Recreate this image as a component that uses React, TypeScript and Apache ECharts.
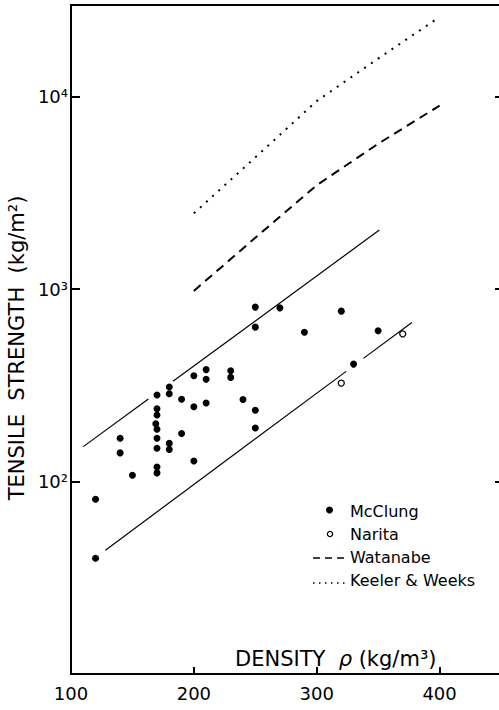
import React, { useEffect, useRef } from "react";
import * as echarts from "echarts";

// McClung measurements: [density kg/m3, tensile strength kg/m2]
const mcclung: [number, number][] = [
  [250, 807], [270, 800], [320, 769], [250, 635], [290, 598], [350, 608],
  [330, 408], [200, 355], [210, 382], [210, 340], [230, 377], [230, 348],
  [180, 310], [180, 286], [170, 282], [190, 268], [200, 245], [210, 256],
  [240, 267], [250, 235], [170, 239], [170, 222], [169, 200], [170, 187],
  [170, 168], [190, 178], [250, 190], [140, 168], [140, 141], [170, 149],
  [180, 158], [180, 147], [200, 128], [150, 108], [170, 119], [170, 111],
  [120, 81], [120, 40],
];
const narita: [number, number][] = [[320, 325], [370, 586]];
const watanabe: [number, number][] = [[200, 980], [250, 1850], [300, 3470], [350, 5700], [400, 9000]];
const keelerWeeks: [number, number][] = [[200, 2480], [250, 4840], [300, 9500], [350, 15800], [400, 26000]];
// envelope lines (drawn in pieces, with gaps as in the original)
const upperBoundA: [number, number][] = [[110, 152], [163, 269]];
const upperBoundB: [number, number][] = [[183, 332], [351, 2030]];
const lowerBoundA: [number, number][] = [[128, 44], [324, 374]];
const lowerBoundB: [number, number][] = [[338, 437], [377.5, 671]];

const xTickLabels = [100, 200, 300, 400];
const yTickValues = [100, 1000, 10000];
const yTickTexts = ["10²", "10³", "10⁴"];

const FONT = "DejaVu Sans";

export default function App() {
  const ref = useRef<HTMLDivElement>(null);
  useEffect(() => {
    if (!ref.current) return;
    const chart = echarts.init(ref.current, undefined, { renderer: "svg" });
    const black = "#000";
    const solid = { color: black, width: 1.2 };
    const fitLine = (name: string, data: [number, number][]) => ({
      name,
      type: "line",
      data,
      symbol: "none",
      lineStyle: solid,
      z: 2,
      silent: true,
    });
    chart.setOption({
      animation: false,
      backgroundColor: "#fff",
      grid: {
        left: 71,
        right: -2,
        top: 5,
        bottom: 36,
        show: true,
        borderColor: black,
        borderWidth: 2,
        containLabel: false,
        outerBoundsMode: "none",
      },
      xAxis: {
        type: "value",
        min: 100,
        max: 450,
        interval: 100,
        axisLine: { show: true, lineStyle: { color: black, width: 2 } },
        axisTick: { show: true, inside: true, length: 7, lineStyle: { color: black, width: 2 } },
        axisLabel: {
          color: black,
          fontSize: 18,
          fontFamily: FONT,
          margin: 10,
          formatter: (v: number) => (xTickLabels.includes(v) ? String(v) : ""),
        },
        splitLine: { show: false },
      },
      yAxis: [
        {
          type: "log",
          logBase: 10,
          min: 10,
          max: 30000,
          axisLine: { show: true, lineStyle: { color: black, width: 2 } },
          axisTick: { show: true, inside: true, length: 9, lineStyle: { color: black, width: 2 } },
          axisLabel: {
            color: black,
            fontSize: 18,
            fontFamily: FONT,
            margin: 3,
            formatter: (v: number) => {
              const i = yTickValues.findIndex((t) => Math.abs(t - v) < 1e-6 * t);
              return i >= 0 ? yTickTexts[i] : "";
            },
          },
          splitLine: { show: false },
          minorTick: { show: false },
        },
        {
          type: "log",
          logBase: 10,
          min: 10,
          max: 30000,
          position: "right",
          axisLine: { show: true, lineStyle: { color: black, width: 2 } },
          axisTick: { show: true, inside: true, length: 6, lineStyle: { color: black, width: 2 } },
          axisLabel: { show: false },
          splitLine: { show: false },
        },
      ],
      series: [
        fitLine("upperA", upperBoundA),
        fitLine("upperB", upperBoundB),
        fitLine("lowerA", lowerBoundA),
        fitLine("lowerB", lowerBoundB),
        {
          name: "Watanabe",
          type: "line",
          data: watanabe,
          symbol: "none",
          lineStyle: { color: black, width: 2, type: [9, 6] },
          z: 2,
        },
        {
          name: "Keeler & Weeks",
          type: "line",
          data: keelerWeeks,
          symbol: "none",
          lineStyle: { color: black, width: 2, type: [2, 6.3] },
          z: 2,
        },
        {
          name: "McClung",
          type: "scatter",
          data: mcclung,
          symbol: "circle",
          symbolSize: 7,
          itemStyle: { color: black, opacity: 1 },
          z: 3,
        },
        {
          name: "Narita",
          type: "scatter",
          data: narita,
          symbol: "circle",
          symbolSize: 6,
          itemStyle: { color: "#fff", borderColor: black, borderWidth: 1.3, opacity: 1 },
          z: 3,
        },
      ],
      graphic: [
        {
          type: "text",
          x: 17,
          y: 348,
          rotation: Math.PI / 2,
          style: {
            text: "TENSILE  STRENGTH  (kg/m²)",
            fontSize: 21,
            fontFamily: FONT,
            fill: black,
            align: "center",
            verticalAlign: "middle",
          },
        },
        {
          type: "text",
          x: 235,
          y: 659,
          style: {
            text: "DENSITY  {i|ρ} (kg/m³)",
            fontSize: 21,
            fontFamily: FONT,
            fill: black,
            align: "left",
            verticalAlign: "middle",
            rich: {
              i: { fontSize: 21, fontFamily: FONT, fontStyle: "italic", fill: black },
            },
          },
        },
        // legend
        { type: "circle", shape: { cx: 329.5, cy: 510, r: 3.5 }, style: { fill: black } },
        {
          type: "text",
          x: 350,
          y: 511,
          style: { text: "McClung", fontSize: 16, fontFamily: FONT, fill: black, verticalAlign: "middle" },
        },
        {
          type: "circle",
          shape: { cx: 330, cy: 534, r: 2.6 },
          style: { fill: "#fff", stroke: black, lineWidth: 1.3 },
        },
        {
          type: "text",
          x: 350,
          y: 534,
          style: { text: "Narita", fontSize: 16, fontFamily: FONT, fill: black, verticalAlign: "middle" },
        },
        {
          type: "line",
          shape: { x1: 313, y1: 558, x2: 348, y2: 558 },
          style: { stroke: black, lineWidth: 1.5, lineDash: [7, 5] },
        },
        {
          type: "text",
          x: 350,
          y: 557,
          style: { text: "Watanabe", fontSize: 16, fontFamily: FONT, fill: black, verticalAlign: "middle" },
        },
        {
          type: "line",
          shape: { x1: 313, y1: 583, x2: 348, y2: 583 },
          style: { stroke: black, lineWidth: 1.5, lineDash: [1.5, 4.5] },
        },
        {
          type: "text",
          x: 350,
          y: 580,
          style: { text: "Keeler & Weeks", fontSize: 16, fontFamily: FONT, fill: black, verticalAlign: "middle" },
        },
      ],
    });
    return () => chart.dispose();
  }, []);
  return (
    <div
      ref={ref}
      style={{ position: "absolute", left: 0, top: 0, width: 499, height: 710, background: "#fff" }}
    />
  );
}
